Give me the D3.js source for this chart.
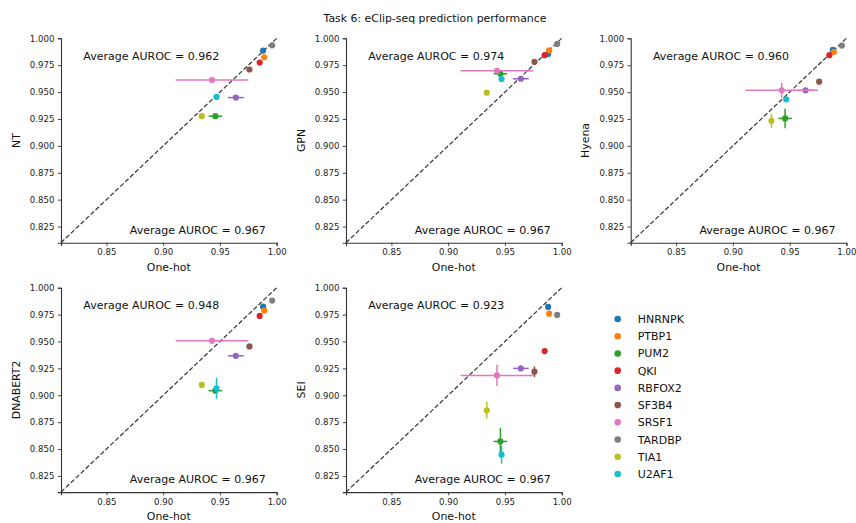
<!DOCTYPE html>
<meta charset="utf-8">
<script src="https://cdn.jsdelivr.net/npm/d3@7"></script>
<style>
  body { margin: 0; background: #fff; font-family: "DejaVu Sans", sans-serif; }
  .tick text { font-family: "DejaVu Sans"; }
</style>
<body>
<div id="viz"></div>
<script>
// genes and their tab10 colours
const genes = ["HNRNPK", "PTBP1", "PUM2", "QKI", "RBFOX2", "SF3B4", "SRSF1", "TARDBP", "TIA1", "U2AF1"];
const colors = ["#1f77b4", "#ff7f0e", "#2ca02c", "#d62728", "#9467bd", "#8c564b", "#e377c2", "#7f7f7f", "#bcbd22", "#17becf"];

// one-hot baseline (x axis on every panel)
const onehot    = [0.988, 0.989, 0.946, 0.985, 0.964, 0.976, 0.943, 0.996, 0.934, 0.947];
const onehotErr = [0.001, 0.001, 0.006, 0.001, 0.007, 0.001, 0.032, 0.001, 0.001, 0.001];

// model scores (y axis)
const ntScores   = [0.9886, 0.9824, 0.9276, 0.9775, 0.9449, 0.9710, 0.9612, 0.9935, 0.9276, 0.9455];
const ntErr      = [0.001, 0.001, 0.001, 0.001, 0.001, 0.001, 0.001, 0.001, 0.001, 0.001];
const gpnScores  = [0.9855, 0.9889, 0.9670, 0.9843, 0.9624, 0.9781, 0.9698, 0.9948, 0.9495, 0.9621];
const gpnErr     = [0.001, 0.001, 0.002, 0.001, 0.001, 0.001, 0.001, 0.001, 0.001, 0.002];
const hyenaScores = [0.9892, 0.9874, 0.9255, 0.9843, 0.9516, 0.9597, 0.9516, 0.9932, 0.9233, 0.9433];
const hyenaErr   = [0.001, 0.001, 0.009, 0.001, 0.001, 0.001, 0.007, 0.001, 0.0065, 0.001];
const dnabertScores = [0.9824, 0.9787, 0.9043, 0.9738, 0.9367, 0.9454, 0.9506, 0.9880, 0.9096, 0.9065];
const dnabertErr = [0.001, 0.001, 0.001, 0.001, 0.001, 0.001, 0.001, 0.001, 0.001, 0.0097];
const seiScores  = [0.9821, 0.9759, 0.8571, 0.9411, 0.9250, 0.9219, 0.9185, 0.9747, 0.8861, 0.8448];
const seiErr     = [0.001, 0.001, 0.0127, 0.001, 0.001, 0.005, 0.0099, 0.001, 0.0078, 0.0085];

const models = ["NT", "GPN", "Hyena", "DNABERT2", "SEI"];
const modelAvg = ["0.962", "0.974", "0.960", "0.948", "0.923"];
const onehotAvg = "0.967";

const xTicks = [0.85, 0.90, 0.95, 1.00];
const yTicks = [0.825, 0.850, 0.875, 0.900, 0.925, 0.950, 0.975, 1.000];

const W = 856, H = 523;
const panelW = 215.7, panelH = 204.4;
const lefts = [61, 346, 630.7];
const tops = [38.3, 287.7];

const panels = [
  { name: models[0], y: ntScores, yerr: ntErr, avg: modelAvg[0], col: 0, row: 0 },
  { name: models[1], y: gpnScores, yerr: gpnErr, avg: modelAvg[1], col: 1, row: 0 },
  { name: models[2], y: hyenaScores, yerr: hyenaErr, avg: modelAvg[2], col: 2, row: 0 },
  { name: models[3], y: dnabertScores, yerr: dnabertErr, avg: modelAvg[3], col: 0, row: 1 },
  { name: models[4], y: seiScores, yerr: seiErr, avg: modelAvg[4], col: 1, row: 1 }
];

const svg = d3.select("#viz").append("svg")
  .attr("width", W)
  .attr("height", H);

svg.append("text")
  .attr("x", 435)
  .attr("y", 22)
  .attr("text-anchor", "middle")
  .attr("font-size", 10.9)
  .attr("fill", "#111")
  .text("Task 6: eClip-seq prediction performance");

panels.forEach(p => {
  const g = svg.append("g")
    .attr("transform", `translate(${lefts[p.col]},${tops[p.row]})`);

  const x = d3.scaleLinear().domain([0.81, 1.0]).range([0, panelW]);
  const y = d3.scaleLinear().domain([0.81, 1.0]).range([panelH, 0]);

  // diagonal y = x
  g.append("line")
    .attr("x1", x(0.81)).attr("y1", y(0.81))
    .attr("x2", x(1.0)).attr("y2", y(1.0))
    .attr("stroke", "#333")
    .attr("stroke-width", 1.2)
    .attr("stroke-dasharray", "4.6,2.2");

  const xAxis = g.append("g")
    .attr("transform", `translate(0,${panelH})`)
    .call(d3.axisBottom(x).tickValues(xTicks).tickFormat(d3.format(".2f")).tickSize(3.2).tickPadding(3.4));
  const yAxis = g.append("g")
    .call(d3.axisLeft(y).tickValues(yTicks).tickFormat(d3.format(".3f")).tickSize(3.2).tickPadding(3.4));

  [xAxis, yAxis].forEach(a => {
    a.select(".domain").attr("stroke", "#333").attr("stroke-width", 1.1);
    a.selectAll(".tick line").attr("stroke", "#333").attr("stroke-width", 0.9);
    a.selectAll(".tick text").attr("font-size", 8.6).attr("fill", "#222");
  });

  // error bars and points, one gene after another
  genes.forEach((gene, i) => {
    const s = g.append("g");
    s.append("line")
      .attr("x1", x(onehot[i] - onehotErr[i])).attr("x2", x(onehot[i] + onehotErr[i]))
      .attr("y1", y(p.y[i])).attr("y2", y(p.y[i]))
      .attr("stroke", colors[i]).attr("stroke-width", 1.5);
    s.append("line")
      .attr("x1", x(onehot[i])).attr("x2", x(onehot[i]))
      .attr("y1", y(p.y[i] - p.yerr[i])).attr("y2", y(p.y[i] + p.yerr[i]))
      .attr("stroke", colors[i]).attr("stroke-width", 1.5);
    s.append("circle")
      .attr("cx", x(onehot[i]))
      .attr("cy", y(p.y[i]))
      .attr("r", 3.1)
      .attr("fill", colors[i]);
  });

  g.append("text")
    .attr("x", x(0.8296))
    .attr("y", y(0.9798))
    .attr("font-size", 11)
    .attr("fill", "#111")
    .text(`Average AUROC = ${p.avg}`);

  g.append("text")
    .attr("x", x(0.9903))
    .attr("y", y(0.8185))
    .attr("text-anchor", "end")
    .attr("font-size", 11)
    .attr("fill", "#111")
    .text(`Average AUROC = ${onehotAvg}`);

  g.append("text")
    .attr("x", panelW / 2)
    .attr("y", panelH + 28)
    .attr("text-anchor", "middle")
    .attr("font-size", 10.9)
    .attr("fill", "#111")
    .text("One-hot");

  g.append("text")
    .attr("transform", `translate(-41.5,${panelH / 2}) rotate(-90)`)
    .attr("text-anchor", "middle")
    .attr("font-size", 10.9)
    .attr("fill", "#111")
    .text(p.name);
});

// legend
const legend = svg.append("g").attr("transform", "translate(617.7,319)");
genes.forEach((gene, i) => {
  const row = legend.append("g").attr("transform", `translate(0,${i * 17.22})`);
  row.append("circle").attr("r", 3.3).attr("fill", colors[i]);
  row.append("text")
    .attr("x", 20)
    .attr("dy", "0.36em")
    .attr("font-size", 11)
    .attr("fill", "#111")
    .text(gene);
});
</script>
</body>
